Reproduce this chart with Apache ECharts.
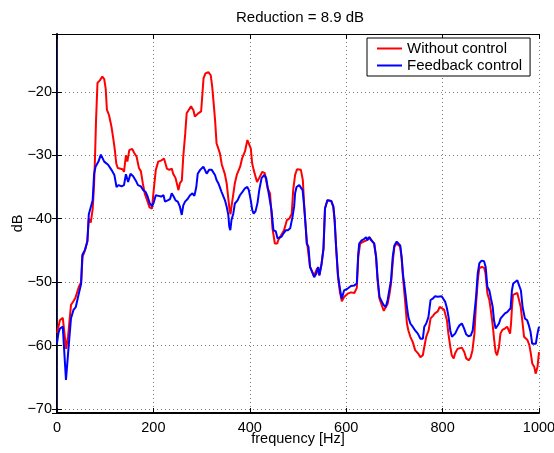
<!DOCTYPE html>
<html>
<head>
<meta charset="utf-8">
<script src="https://cdn.jsdelivr.net/npm/echarts@6/dist/echarts.min.js"></script>
<style>
  html, body { margin: 0; padding: 0; background: #fff; }
  #chart { width: 554px; height: 453px; }
</style>
</head>
<body>
<div id="chart"></div>
<script>
// spectra
var redFreq = [0, 6, 12, 16, 19, 23, 29, 34, 38, 45, 50, 53, 58, 63, 66, 70, 74, 77, 79, 81, 84, 89, 94, 98, 101,
  103.5, 108, 113, 117, 120, 123, 126, 130, 136, 139, 143, 146, 150, 156, 160, 165, 170, 174, 178, 182, 188, 192, 197,
  200, 205, 210, 217, 222, 228, 233, 238, 241, 246, 252, 255, 259, 262, 266, 269, 273, 278, 283, 286, 290, 293, 299,
  302, 304, 308, 314, 319, 322, 325, 328, 331, 335, 338, 342, 345, 348, 352, 355, 358, 360, 362, 366, 369, 373, 376,
  380, 384, 390, 395, 398, 402, 405, 408, 415, 420, 426, 431, 437, 442, 447, 452, 457, 459, 465, 471, 477, 482, 487,
  490, 494, 498, 502, 506, 510, 513, 516, 519, 522, 525, 530, 533, 537, 540, 544, 549, 553, 556, 561, 565, 569, 573,
  576, 579, 583, 587, 591, 596, 603, 610, 617, 622, 625, 629, 634, 637, 642, 648, 652, 658, 662, 665, 669, 673, 678,
  682, 686, 690, 693, 697, 700, 705, 708, 712, 715, 718, 722, 726, 729, 733, 738, 743, 749, 754, 759, 762, 766, 771,
  775, 780, 784, 790, 794, 798, 803, 809, 812, 816, 819, 823, 826, 831, 835, 840, 845, 849, 854, 858, 862, 866, 869,
  873, 876, 881, 886, 889, 893, 897, 900, 904, 907, 910, 913, 917, 920, 924, 929, 934, 938, 940, 942, 944, 946, 950,
  955, 959, 962, 966, 969, 973, 976, 980, 983, 986, 990, 993, 995, 997, 1000];
var redDb = [-58.0, -56.0, -55.6, -55.4, -60.5, -58.5, -53.6, -53.0, -52.5, -50.8, -50.0, -46.0, -45.0, -43.5, -40.0,
  -40.6, -38.5, -34.5, -30.0, -24.5, -18.6, -18.2, -17.6, -18.0, -19.5, -22.8, -23.7, -25.5, -27.5, -29.2, -31.3,
  -32.0, -31.8, -32.2, -32.6, -30.0, -31.0, -29.2, -29.0, -29.6, -30.2, -32.0, -32.5, -34.4, -36.0, -37.3, -38.2,
  -38.4, -36.0, -32.3, -31.0, -30.8, -30.5, -32.1, -32.3, -32.1, -32.9, -33.6, -35.5, -34.4, -34.0, -30.2, -26.6,
  -23.4, -22.9, -22.3, -22.9, -23.9, -24.1, -23.4, -23.1, -20.0, -17.9, -17.1, -16.9, -17.4, -19.2, -21.8, -24.5,
  -28.1, -28.3, -29.7, -31.5, -31.8, -32.9, -34.4, -36.5, -38.6, -39.3, -38.1, -36.0, -34.4, -33.1, -32.9, -31.8,
  -30.5, -29.4, -27.6, -27.8, -28.9, -31.3, -32.3, -34.2, -33.5, -32.6, -32.8, -35.2, -36.0, -41.5, -43.9, -43.9,
  -43.4, -42.6, -41.8, -40.2, -40.0, -39.2, -35.5, -33.1, -32.2, -32.0, -32.3, -33.9, -38.1, -41.3, -43.9, -44.2,
  -47.6, -48.4, -49.0, -48.3, -47.8, -48.9, -47.0, -44.7, -38.4, -37.1, -37.0, -37.2, -38.1, -40.2, -44.4, -49.2,
  -51.6, -53.0, -52.3, -51.8, -51.6, -51.7, -50.9, -46.0, -43.9, -43.7, -43.4, -43.4, -42.9, -43.2, -43.9, -46.0,
  -49.7, -52.6, -52.9, -54.5, -54.7, -53.4, -51.8, -50.2, -46.5, -44.4, -43.9, -43.6, -44.4, -46.3, -49.4, -52.8,
  -56.5, -57.6, -58.6, -59.4, -60.7, -61.2, -61.8, -61.5, -60.2, -58.6, -57.6, -55.7, -55.3, -54.9, -54.6, -53.9,
  -53.8, -54.3, -56.0, -58.1, -60.2, -61.5, -62.0, -61.2, -60.5, -60.2, -60.3, -61.0, -62.0, -62.3, -61.9, -60.7,
  -58.1, -53.9, -49.7, -47.8, -47.6, -47.7, -48.6, -51.8, -52.8, -54.4, -56.8, -59.1, -61.0, -61.5, -60.2, -58.1,
  -57.5, -57.3, -57.0, -56.8, -58.1, -56.5, -53.9, -52.0, -51.7, -51.7, -51.9, -53.9, -56.5, -58.6, -58.9, -59.1,
  -59.9, -61.2, -62.8, -63.3, -64.4, -64.4, -63.3, -61.0];

var blueFreq = [0, 3, 6, 12, 16, 18.6, 23, 29, 34, 39, 41, 45.5, 50, 52.5, 58, 63, 66, 70, 74, 77, 80, 86, 91, 94.5,
  98, 106, 113, 119, 123.5, 128, 134, 139, 143, 147.6, 152.5, 158, 163.6, 168, 174, 179, 184, 188, 192.5, 197, 200,
  205, 210.5, 216, 221, 224, 229.6, 234.5, 238, 242, 246, 250.5, 255, 258.8, 262, 265.7, 271, 276, 281, 285, 289, 292,
  297, 300.6, 303.7, 307, 310.5, 315.5, 321, 324.5, 327.8, 331, 334.7, 338, 341.6, 345, 348.5, 352, 355.4, 357.5,
  359.6, 362, 365.7, 369, 374.6, 379.5, 384.4, 390, 394.8, 398, 402, 405, 408, 412, 416, 419.6, 424.4, 430, 434, 438,
  442, 445, 449, 454, 457.6, 461.7, 466, 470, 474.8, 479, 483.8, 487, 488.6, 492, 494, 497, 502.5, 506, 509.6, 512.8,
  516, 518, 521.7, 525, 527, 533.5, 537.5, 541.8, 544.5, 548.6, 552.8, 556, 561, 564.6, 569, 573.5, 576, 579, 583,
  587.4, 590.7, 595.6, 603, 610, 617, 622, 625, 627, 632, 637, 641.5, 644, 647.6, 652, 658, 662, 665, 669, 673, 677.6,
  682, 686, 689.5, 693, 696.5, 700, 704.8, 708, 712, 715, 718, 722, 726, 729, 733, 738, 743, 748.6, 754, 759, 762,
  766, 770.6, 775, 779.5, 784.4, 790, 794, 798, 800.6, 805.5, 809, 812.4, 815.9, 819.3, 822.8, 826, 831, 835, 840,
  844.7, 848.8, 853.6, 858.4, 862.5, 866, 869.4, 872.9, 876.3, 881, 886, 889.4, 892.8, 897, 900.4, 904, 906.6, 910,
  913.5, 917, 920.4, 924.5, 929.4, 934, 937.6, 941, 943.8, 946.5, 950, 955, 959, 962.5, 965.9, 970.7, 975.5, 979,
  982.4, 985.9, 990, 993.4, 996.8, 1000];
var blueDb = [-59.6, -58.0, -57.3, -57.0, -57.0, -65.4, -61.2, -55.7, -54.4, -53.9, -53.6, -51.7, -50.3, -45.7, -44.9,
  -43.6, -39.3, -39.2, -37.1, -32.9, -31.8, -31.0, -29.9, -30.2, -31.0, -31.5, -32.3, -33.1, -35.0, -34.7, -34.9,
  -34.7, -33.0, -34.2, -32.9, -33.3, -34.0, -34.7, -34.9, -35.5, -35.8, -36.5, -37.6, -38.0, -37.6, -36.3, -36.4,
  -36.5, -36.3, -37.3, -37.1, -36.9, -36.0, -36.5, -37.1, -37.3, -38.1, -39.4, -37.9, -37.3, -36.9, -36.3, -36.0,
  -36.4, -35.0, -32.9, -32.3, -32.6, -31.8, -32.1, -32.9, -32.3, -32.3, -32.6, -33.1, -33.9, -34.4, -34.7, -35.8,
  -36.0, -37.1, -38.1, -39.4, -41.3, -41.8, -40.2, -39.2, -37.6, -37.1, -36.3, -35.8, -35.2, -35.0, -35.5, -37.1,
  -38.6, -39.2, -38.8, -37.5, -35.5, -33.6, -33.1, -33.6, -35.5, -35.8, -38.6, -41.8, -42.0, -43.1, -43.4, -42.8,
  -42.3, -41.8, -41.8, -41.5, -41.2, -39.7, -38.1, -36.0, -35.0, -34.7, -34.8, -35.5, -38.1, -41.3, -43.9, -44.4,
  -47.6, -47.8, -49.2, -48.7, -47.6, -48.9, -47.3, -44.7, -38.4, -37.1, -37.0, -37.2, -38.1, -40.2, -44.4, -48.9,
  -51.2, -52.6, -51.3, -51.0, -50.6, -50.5, -50.2, -45.5, -43.9, -43.4, -43.2, -42.9, -43.4, -42.9, -43.4, -43.9,
  -46.0, -49.2, -52.3, -52.6, -53.6, -53.9, -52.8, -51.2, -49.7, -46.0, -44.2, -43.6, -43.4, -44.2, -46.0, -48.9,
  -51.2, -53.9, -55.5, -56.5, -57.0, -57.6, -58.1, -58.9, -58.9, -57.0, -56.5, -55.5, -52.8, -52.6, -52.2, -52.3,
  -52.0, -52.2, -52.3, -53.1, -54.1, -55.5, -57.6, -58.6, -58.7, -58.1, -57.3, -56.8, -56.5, -57.3, -58.2, -58.5,
  -58.4, -57.6, -54.9, -52.3, -48.6, -47.0, -46.6, -46.7, -47.6, -50.7, -51.3, -52.6, -53.9, -56.0, -57.3, -57.3,
  -56.5, -55.7, -55.4, -54.9, -54.7, -54.4, -54.1, -51.3, -50.2, -49.9, -49.7, -49.9, -51.3, -53.9, -55.7, -56.0,
  -56.8, -57.8, -59.7, -59.9, -59.7, -58.1, -57.0];

var seriesNames = ['Without control', 'Feedback control'];
var titleText = 'Reduction = 8.9 dB';
var xTicks = [0, 1000, 200];     // min, max, step
var yRange = [-70.6, -10.9];

function pairs(xs, ys) {
    return xs.map(function (x, i) { return [x, ys[i]]; });
}

var font = 'Liberation Sans, Arial, Helvetica, sans-serif';
var gridDots = { color: '#7a7a7a', type: [1, 3], width: 1 };
function minus(v) { return String(v).replace('-', '\u2212'); }

var myChart = echarts.init(document.getElementById('chart'), null, { renderer: 'canvas' });
var option = {
    animation: false,
    backgroundColor: '#fff',
    textStyle: { fontFamily: font },
    title: {
        text: titleText,
        left: 236,
        top: 10,
        padding: 0,
        textStyle: { fontSize: 15, fontWeight: 'normal', color: '#000', fontFamily: font }
    },
    legend: {
        data: seriesNames,
        orient: 'vertical',
        left: 367,
        top: 38,
        padding: [3, 8, 3, 10],
        itemGap: 2,
        itemWidth: 25,
        itemHeight: 2,
        icon: 'rect',
        borderColor: '#000',
        borderWidth: 1,
        backgroundColor: '#fff',
        textStyle: { fontSize: 15, color: '#000', lineHeight: 15, fontFamily: font }
    },
    grid: { left: 57, right: 15, top: 34, bottom: 40, containLabel: false, outerBoundsMode: 'none' },
    xAxis: [{
        type: 'value',
        min: xTicks[0], max: xTicks[1], interval: xTicks[2],
        name: 'frequency [Hz]',
        nameLocation: 'middle',
        nameGap: 18,
        nameMoveOverlap: false,
        nameTextStyle: { fontSize: 14.5, color: '#000', fontFamily: font, verticalAlign: 'top' },
        axisLine: { lineStyle: { color: '#000', width: 2 } },
        axisTick: { inside: true, length: 5, lineStyle: { color: '#000' } },
        axisLabel: { color: '#000', fontSize: 14.5, margin: 7, fontFamily: font, formatter: function (v) { return String(v); } },
        splitLine: { show: true, lineStyle: gridDots }
    }, {
        type: 'value',
        position: 'top',
        min: xTicks[0], max: xTicks[1], interval: xTicks[2],
        axisLine: { show: true, lineStyle: { color: '#000', width: 1 } },
        axisTick: { inside: true, length: 5, lineStyle: { color: '#000' } },
        axisLabel: { show: false },
        splitLine: { show: false }
    }],
    yAxis: [{
        type: 'value',
        min: yRange[0], max: yRange[1],
        splitNumber: 6,
        name: 'dB',
        nameLocation: 'middle',
        nameGap: 32,
        nameMoveOverlap: false,
        nameTextStyle: { fontSize: 14.5, color: '#000', fontFamily: font },
        axisLine: { show: true, lineStyle: { color: '#000', width: 2 } },
        axisTick: { inside: true, length: 5, lineStyle: { color: '#000' } },
        axisLabel: {
            color: '#000', fontSize: 14.5, margin: 5, fontFamily: font,
            showMinLabel: false, showMaxLabel: false,
            formatter: minus
        },
        splitLine: { show: true, lineStyle: gridDots }
    }, {
        type: 'value',
        position: 'right',
        min: yRange[0], max: yRange[1],
        splitNumber: 6,
        axisLine: { show: true, lineStyle: { color: '#1a1a66', width: 1 } },
        axisTick: { inside: true, length: 5, lineStyle: { color: '#000' } },
        axisLabel: { show: false },
        splitLine: { show: false }
    }],
    series: [{
        name: seriesNames[0],
        type: 'line',
        data: pairs(redFreq, redDb),
        showSymbol: false,
        clip: true,
        lineStyle: { color: '#ff0000', width: 2 },
        itemStyle: { color: '#ff0000' }
    }, {
        name: seriesNames[1],
        type: 'line',
        data: pairs(blueFreq, blueDb),
        showSymbol: false,
        clip: true,
        lineStyle: { color: '#0000ff', width: 2 },
        itemStyle: { color: '#0000ff' }
    }]
};
myChart.setOption(option);
</script>
</body>
</html>
